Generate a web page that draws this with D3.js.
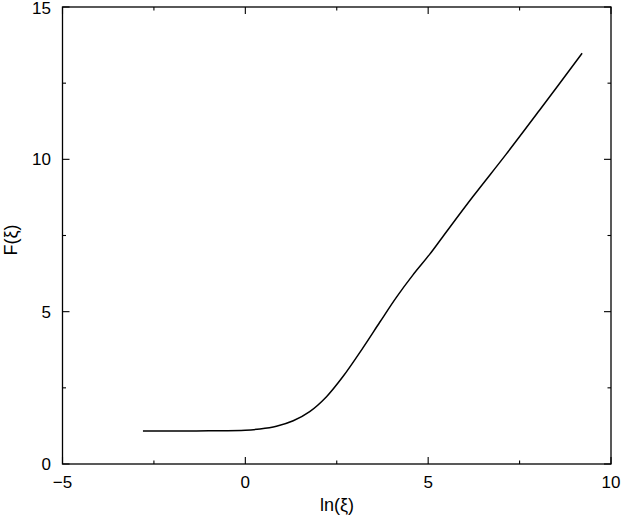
<!DOCTYPE html>
<html><head><meta charset="utf-8">
<script src="https://cdn.jsdelivr.net/npm/d3@7"></script>
<style>body{margin:0;background:#fff}svg{display:block}text{font-family:"Liberation Sans",Arial,sans-serif;fill:#000}</style>
</head><body>
<svg id="c" width="622" height="519"></svg>
<script>
const xVals = [-2.8, -2, -1, 0, 0.4, 0.85, 1.31, 1.76, 2.22, 2.67, 3.22, 3.68, 4.13, 4.58, 5.04, 5.4, 6.22, 7.14, 8.05, 9.21];
const yVals = [1.08, 1.08, 1.09, 1.11, 1.15, 1.24, 1.42, 1.72, 2.21, 2.87, 3.82, 4.66, 5.47, 6.2, 6.88, 7.46, 8.77, 10.18, 11.62, 13.48];
const xMajor = [-5, 0, 5, 10];
const xMinor = [-2.5, 2.5, 7.5];
const yMajor = [0, 5, 10, 15];
const yMinor = [2.5, 7.5, 12.5];

const L = 62.5, R = 611, T = 7, B = 464;
const svg = d3.select("#c");
const x = d3.scaleLinear().domain([-5, 10]).range([L, R]);
const y = d3.scaleLinear().domain([0, 15]).range([B, T]);
const fmt = d => d < 0 ? "\u2212" + Math.abs(d) : String(d);

// frame
svg.append("rect").attr("x", L).attr("y", T).attr("width", R - L).attr("height", B - T)
  .attr("fill", "none").attr("stroke", "#000").attr("stroke-width", 1.3);

// ticks (inward, mirrored)
const tg = svg.append("g").attr("stroke", "#000").attr("stroke-width", 1.1);
function xt(vals, len) {
  vals.forEach(v => {
    tg.append("line").attr("x1", x(v)).attr("x2", x(v)).attr("y1", B).attr("y2", B - len);
    tg.append("line").attr("x1", x(v)).attr("x2", x(v)).attr("y1", T).attr("y2", T + len);
  });
}
function yt(vals, len) {
  vals.forEach(v => {
    tg.append("line").attr("y1", y(v)).attr("y2", y(v)).attr("x1", L).attr("x2", L + len);
    tg.append("line").attr("y1", y(v)).attr("y2", y(v)).attr("x1", R).attr("x2", R - len);
  });
}
xt(xMajor, 7); xt(xMinor, 3.5); yt(yMajor, 7); yt(yMinor, 3.5);

// tick labels
svg.append("g").selectAll("text").data(xMajor).join("text")
  .attr("x", d => x(d)).attr("y", 488).attr("text-anchor", "middle")
  .attr("font-size", 17).text(fmt);
svg.append("g").selectAll("text").data(yMajor).join("text")
  .attr("x", 51).attr("y", d => Math.max(y(d) + 6, 14)).attr("text-anchor", "end")
  .attr("font-size", 17).text(fmt);

// axis titles
svg.append("text").attr("x", 337).attr("y", 511).attr("text-anchor", "middle")
  .attr("font-size", 18).text("ln(\u03BE)");
svg.append("text").attr("transform", "translate(17,240) rotate(-90)")
  .attr("text-anchor", "middle").attr("font-size", 18).text("F(\u03BE)");

// curve
const data = xVals.map((v, i) => [v, yVals[i]]);
svg.append("path").datum(data)
  .attr("d", d3.line().x(d => x(d[0])).y(d => y(d[1])).curve(d3.curveCatmullRom))
  .attr("fill", "none").attr("stroke", "#000").attr("stroke-width", 1.5);
</script>
</body></html>
